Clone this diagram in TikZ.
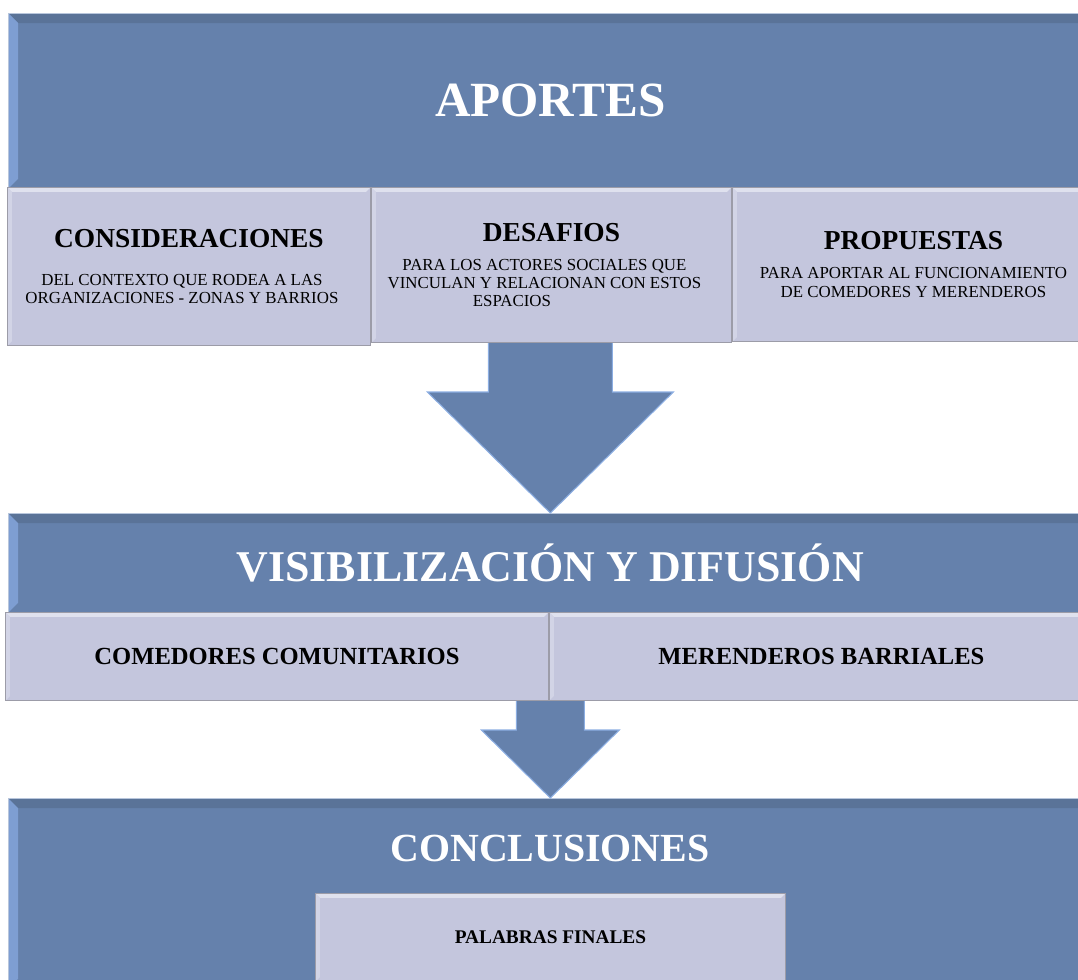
\documentclass[tikz,border=0pt]{standalone}
\usepackage{fontspec}
\setmainfont{Liberation Serif}
\usetikzlibrary{positioning, calc}

\definecolor{bannerblue}{HTML}{6581AC}
\definecolor{banneredge}{HTML}{B8C6DC}
\definecolor{bevtop}{HTML}{5A7398}
\definecolor{bevleft}{HTML}{7E9ED2}
\definecolor{boxlav}{HTML}{C4C6DD}
\definecolor{boxedge}{HTML}{9C9CA8}
\definecolor{boxtop}{HTML}{DFE1EE}
\definecolor{boxleft}{HTML}{D2D4E6}
\definecolor{arrowedge}{HTML}{8CAEE2}

\newcommand{\boxhead}{\fontsize{15.6}{18}\selectfont\bfseries}
\newcommand{\boxnote}{\fontsize{9.6}{10.4}\selectfont}
\newcommand{\rowfont}{\fontsize{14}{16}\selectfont\bfseries}
\newcommand{\padr}[1]{\mbox{\hspace{#1}}}

\tikzset{
    bevel/.style n args={3}{path picture={
        \fill[#1] (path picture bounding box.north west) -- (path picture bounding box.north east)
            -- ([xshift=-#3,yshift=-#3]path picture bounding box.north east)
            -- ([xshift=#3,yshift=-#3]path picture bounding box.north west) -- cycle;
        \fill[#2] (path picture bounding box.north west) -- ([xshift=#3,yshift=-#3]path picture bounding box.north west)
            -- ([xshift=#3,yshift=#3]path picture bounding box.south west) -- (path picture bounding box.south west) -- cycle;
    }},
}

\begin{document}
\begin{tikzpicture}[
    x=0.02cm, y=-0.02cm,
    banner/.style={rectangle, fill=bannerblue, draw=banneredge, line width=0.5pt, inner sep=0pt, anchor=north west, text=white, bevel={bevtop}{bevleft}{5.5pt}},
    subbox/.style={rectangle, fill=boxlav, draw=boxedge, line width=0.6pt, inner sep=2pt, align=center, anchor=north west, font=\boxnote, bevel={boxtop}{boxleft}{2.5pt}},
    titletxt/.style={text=white, font=\fontsize{22.7}{26}\selectfont\bfseries},
    blockarrow/.style={fill=bannerblue, draw=arrowedge, line width=0.6pt, line join=miter},
]
\useasboundingbox (0,0) rectangle (1078,980);

% Banners
\node[banner, minimum width=21.68cm, minimum height=3.5cm, font=\fontsize{28}{30}\selectfont\bfseries] (aportes) at (8,13) {APORTES};
\node[banner, minimum width=21.68cm, minimum height=1.98cm, font=\fontsize{25}{28}\selectfont\bfseries] (visib) at (8,513) {VISIBILIZACIÓN Y DIFUSIÓN};
\node[banner, minimum width=21.68cm, minimum height=3.8cm] (concl) at (8,798) {};
\node[titletxt] (conclTitle) at (550,848) {CONCLUSIONES};

% Block arrows
\draw[blockarrow] ($(aportes.south)+(-62,0)$) -- ($(visib.north)+(-62,-121)$) -- ++(-61,0) -- (visib.north)
    -- ($(visib.north)+(123,-121)$) -- ++(-61,0) -- ($(aportes.south)+(62,0)$) -- cycle;
\draw[blockarrow] ($(visib.south)+(-34,0)$) -- ($(concl.north)+(-34,-68)$) -- ++(-35,0) -- (concl.north)
    -- ($(concl.north)+(69,-68)$) -- ++(-35,0) -- ($(visib.south)+(34,0)$) -- cycle;

% First row
\node[subbox, minimum width=7.26cm, minimum height=3.16cm] (consid) at (7,187)
    {{\boxhead CONSIDERACIONES}\\[11pt] DEL CONTEXTO QUE RODEA A LAS\padr{8pt}\\ ORGANIZACIONES - ZONAS Y BARRIOS\padr{8pt}};
\node[subbox, minimum width=7.2cm, minimum height=3.1cm] (desafios) at (consid.north east)
    {{\boxhead DESAFIOS}\\[6pt] PARA LOS ACTORES SOCIALES QUE\padr{8pt}\\ VINCULAN Y RELACIONAN CON ESTOS\padr{8pt}\\ ESPACIOS\padr{45pt}};
\node[subbox, minimum width=7.24cm, minimum height=3.08cm] (propuestas) at (desafios.north east)
    {{\boxhead PROPUESTAS}\\[6pt] PARA APORTAR AL FUNCIONAMIENTO\\ DE COMEDORES Y MERENDEROS};

% Second row
\node[subbox, minimum width=10.86cm, minimum height=1.76cm, font=\rowfont] (comedores) at (5,612) {COMEDORES COMUNITARIOS};
\node[subbox, minimum width=10.88cm, minimum height=1.76cm, font=\rowfont] (merenderos) at (comedores.north east) {MERENDEROS BARRIALES};

% Final box
\node[subbox, minimum width=9.4cm, minimum height=1.76cm, font=\fontsize{11}{13}\selectfont\bfseries] (palabras) at (315,893) {PALABRAS FINALES};

\end{tikzpicture}
\end{document}
